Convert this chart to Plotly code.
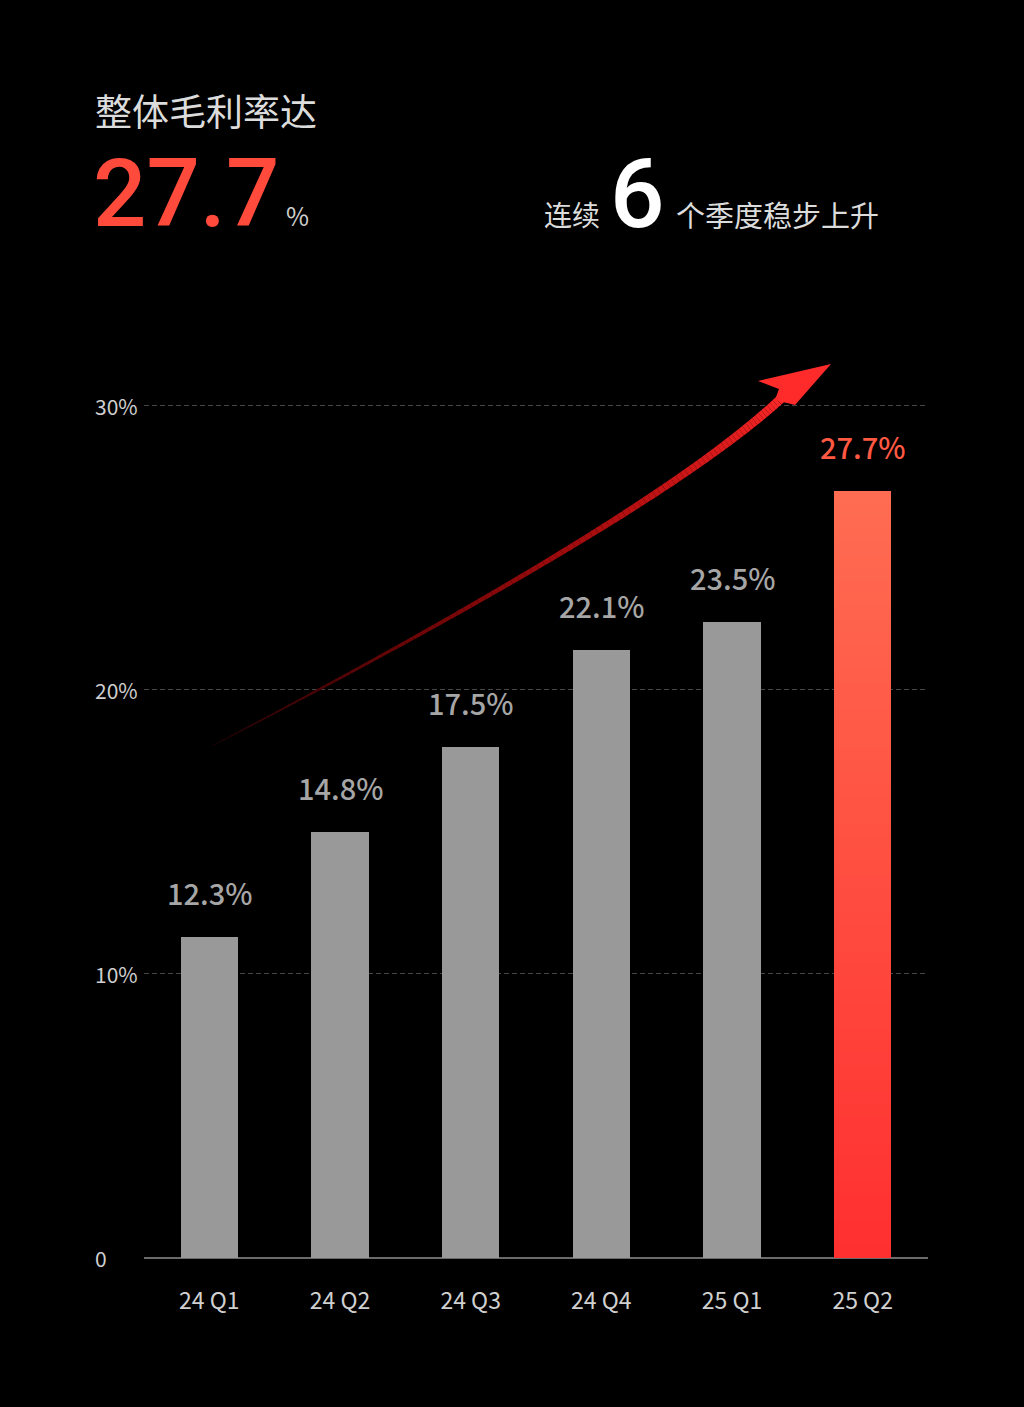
import numpy as np
import plotly.graph_objects as go

# ======================
# data
# ======================
quarters = ["24 Q1", "24 Q2", "24 Q3", "24 Q4", "25 Q1", "25 Q2"]
bar_heights = [11.3, 15.0, 18.0, 21.4, 22.4, 27.0]   # drawn heights (%)
bar_labels = ["12.3%", "14.8%", "17.5%", "22.1%", "23.5%", "27.7%"]
y_ticks = [0, 10, 20, 30]
y_tick_text = ["0", "10%", "20%", "30%"]

headline_value = "27.7"
streak_quarters = "6"

# ======================
# layout geometry (pixels)
# ======================
W, H = 1024, 1407
L, R, T, B = 144, 96, 349, 149
PW, PH = W - L - R, H - T - B
Y_MAX = 32


def px(x):
    return (x - L) / PW


def py(y):
    return (H - B - y) / PH


BG = "#000000"
GRAY_BAR = "#999999"
FONT = "Noto Sans CJK SC"
NUM_FONT = "Roboto"

fig = go.Figure()

# gray bars (all but the last)
fig.add_trace(go.Bar(
    x=quarters[:-1],
    y=bar_heights[:-1],
    marker=dict(color=GRAY_BAR, line=dict(width=0)),
    width=0.44,
    hoverinfo="skip",
))

# last bar: fake a vertical gradient with stacked slices
n_slices = 60
top_rgb = np.array([255, 108, 82])
bot_rgb = np.array([255, 48, 48])
slice_cols = []
for i in range(n_slices):
    t = i / (n_slices - 1)
    c = bot_rgb + (top_rgb - bot_rgb) * t
    slice_cols.append("rgb(%d,%d,%d)" % tuple(c.round().astype(int)))
fig.add_trace(go.Bar(
    x=[quarters[-1]] * n_slices,
    y=[bar_heights[-1] / n_slices] * n_slices,
    marker=dict(color=slice_cols, line=dict(width=0)),
    width=0.44,
    hoverinfo="skip",
))

# value labels above bars
for i, (q, h, lab) in enumerate(zip(quarters, bar_heights, bar_labels)):
    last = i == len(quarters) - 1
    fig.add_annotation(
        x=q, y=h, text=lab, showarrow=False,
        xanchor="center", yanchor="bottom", yshift=22,
        font=dict(family=FONT, size=29, weight=500,
                  color="#ff5843" if last else "#a6a6a6"),
    )

# y tick labels, left aligned
for v, txt in zip(y_ticks, y_tick_text):
    fig.add_annotation(
        x=px(93), xref="paper", y=v, yref="y", text=txt, showarrow=False,
        xanchor="left", yanchor="middle",
        font=dict(family=FONT, size=21, color="#cfcfcf"),
    )

# ======================
# curved arrow (cubic bezier, pixel space -> paper)
# ======================
P0 = np.array([212, 746])
P1 = np.array([517, 587])
P2 = np.array([704, 472])
P3 = np.array([786, 394])
ts = np.linspace(0, 1, 100)
pts = [((1 - t) ** 3) * P0 + 3 * ((1 - t) ** 2) * t * P1 + 3 * (1 - t) * t * t * P2 + (t ** 3) * P3 for t in ts]
shapes = []
for k in range(len(pts) - 1):
    t = ts[k]
    r = int(25 + 230 * t ** 0.7)
    g = int(4 + 38 * t ** 2)
    b = int(6 + 36 * t ** 2)
    wdt = 1.0 + 8.5 * t ** 0.85
    a, c = pts[k], pts[k + 1]
    shapes.append(dict(
        type="line", xref="paper", yref="paper",
        x0=px(a[0]), y0=py(a[1]), x1=px(c[0]), y1=py(c[1]),
        line=dict(color="rgb(%d,%d,%d)" % (r, g, b), width=wdt),
        layer="above",
    ))

head = [(831, 364), (758, 381), (779, 389), (775, 400), (795, 405)]
path = "M " + " L ".join("%.4f,%.4f" % (px(x), py(y)) for x, y in head) + " Z"
shapes.append(dict(
    type="path", xref="paper", yref="paper", path=path,
    fillcolor="#ff2b2b", line=dict(width=0), layer="above",
))

# ======================
# header text
# ======================
fig.add_annotation(
    x=px(93), y=py(110), xref="paper", yref="paper", text="整体毛利率达",
    showarrow=False, xanchor="left", yanchor="middle",
    font=dict(family=FONT, size=37, color="#dcdcdc"),
)
fig.add_annotation(
    x=px(91), y=py(194), xref="paper", yref="paper", text=headline_value,
    showarrow=False, xanchor="left", yanchor="middle",
    font=dict(family=NUM_FONT, size=94, weight=500, color="#ff4a3c"),
)
fig.add_annotation(
    x=px(284), y=py(215), xref="paper", yref="paper", text="%",
    showarrow=False, xanchor="left", yanchor="middle",
    font=dict(family=FONT, size=25, color="#cfcfcf"),
)
fig.add_annotation(
    x=px(542), y=py(214), xref="paper", yref="paper", text="连续",
    showarrow=False, xanchor="left", yanchor="middle",
    font=dict(family=FONT, size=28, color="#dcdcdc"),
)
fig.add_annotation(
    x=px(608), y=py(194), xref="paper", yref="paper", text=streak_quarters,
    showarrow=False, xanchor="left", yanchor="middle",
    font=dict(family=NUM_FONT, size=96, weight=500, color="#ffffff"),
)
fig.add_annotation(
    x=px(674), y=py(214), xref="paper", yref="paper", text="个季度稳步上升",
    showarrow=False, xanchor="left", yanchor="middle",
    font=dict(family=FONT, size=29, color="#dcdcdc"),
)

fig.update_layout(
    width=W, height=H,
    margin=dict(l=L, r=R, t=T, b=B),
    paper_bgcolor=BG, plot_bgcolor=BG,
    barmode="stack",
    showlegend=False,
    shapes=shapes,
    font=dict(family=FONT),
)
fig.update_xaxes(
    categoryorder="array", categoryarray=quarters,
    range=[-0.5, len(quarters) - 0.5],
    showgrid=False, zeroline=False, showline=False,
    ticks="outside", ticklen=22, tickcolor=BG,
    tickfont=dict(family=FONT, size=23, color="#d0d0d0"),
)
fig.update_yaxes(
    range=[0, Y_MAX],
    tickvals=y_ticks[1:], showticklabels=False,
    showgrid=True, gridcolor="#474747", griddash="5px,3px", gridwidth=1,
    zeroline=True, zerolinecolor="#6a6a6a", zerolinewidth=1.5,
    showline=False,
)

# no white page border around the figure
fig.write_html(
    "out.html",
    config={"displayModeBar": False},
    post_script="document.body.style.margin='0';",
)
